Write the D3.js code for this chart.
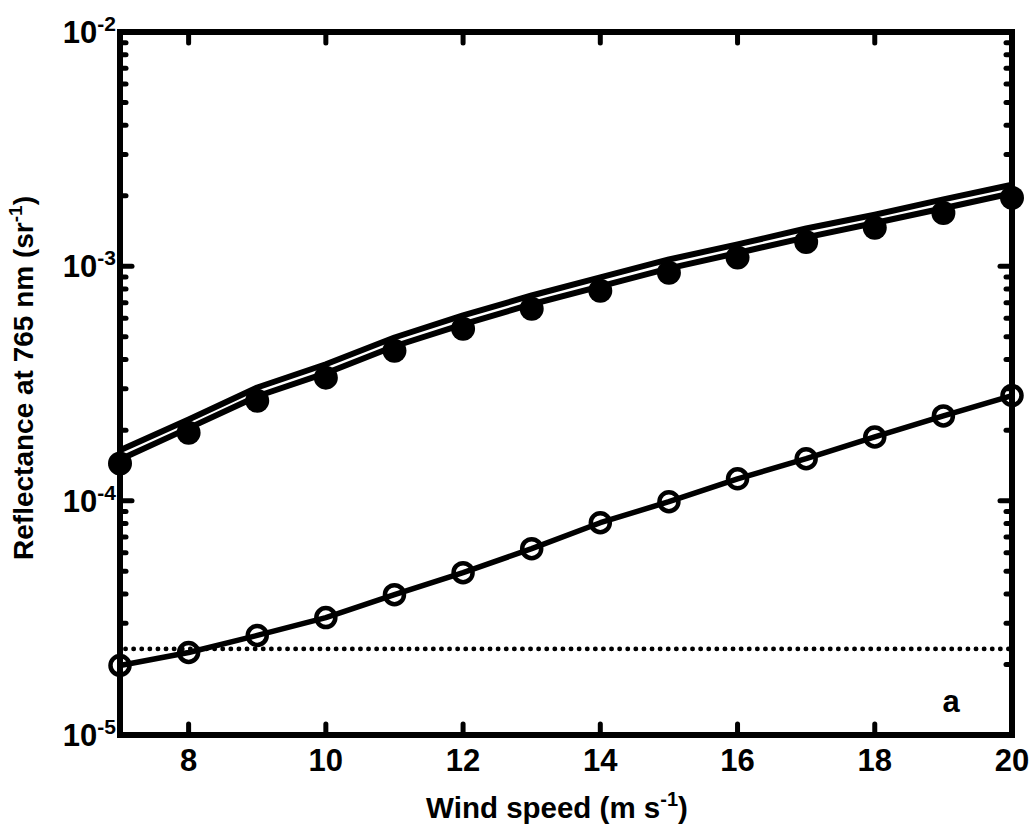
<!DOCTYPE html>
<html><head><meta charset="utf-8">
<script src="https://cdn.jsdelivr.net/npm/d3@7"></script>
<style>
body{margin:0;background:#fff;}
text{font-family:"Liberation Sans",Arial,Helvetica,sans-serif;font-weight:bold;fill:#000;}
</style>
</head><body>
<svg id="chart" width="1033" height="833"></svg>
<script>
// ---- data ----
const windSpeed = [7, 8, 9, 10, 11, 12, 13, 14, 15, 16, 17, 18, 19, 20];
const reflUpperLine = [1.64e-4, 2.22e-4, 3.04e-4, 3.82e-4, 4.97e-4, 6.17e-4, 7.51e-4, 8.97e-4, 1.07e-3, 1.24e-3, 1.45e-3, 1.66e-3, 1.93e-3, 2.23e-3];
const reflMiddleLine = [1.50e-4, 2.04e-4, 2.79e-4, 3.50e-4, 4.56e-4, 5.65e-4, 6.89e-4, 8.22e-4, 9.80e-4, 1.14e-3, 1.33e-3, 1.53e-3, 1.77e-3, 2.05e-3];
const reflFilled = [1.44e-4, 1.95e-4, 2.67e-4, 3.35e-4, 4.36e-4, 5.41e-4, 6.59e-4, 7.87e-4, 9.38e-4, 1.09e-3, 1.27e-3, 1.46e-3, 1.69e-3, 1.96e-3];
const reflOpen = [1.98e-5, 2.25e-5, 2.66e-5, 3.17e-5, 3.97e-5, 4.93e-5, 6.24e-5, 8.05e-5, 9.9e-5, 1.24e-4, 1.51e-4, 1.87e-4, 2.30e-4, 2.81e-4];
const reflDotted = [2.33e-5, 2.33e-5];
const dottedRange = [7.08, 20];
const xTickValues = [8, 10, 12, 14, 16, 18, 20];
const yDecadeExponents = [-5, -4, -3, -2];
const xTitle = "Wind speed (m s";
const yTitle = "Reflectance at 765 nm (sr";
const panelLabel = "a";

// ---- layout ----
const L = 120, R = 1012, T = 32, B = 735;
const svg = d3.select("#chart");
const x = d3.scaleLinear().domain([7, 20]).range([L, R]);
const y = d3.scaleLog().domain([1e-5, 1e-2]).range([B, T]);

// dotted horizontal line
svg.append("line")
  .attr("x1", x(dottedRange[0])).attr("x2", x(dottedRange[1]))
  .attr("y1", y(reflDotted[0])).attr("y2", y(reflDotted[1]))
  .attr("stroke", "#000").attr("stroke-width", 4.8)
  .attr("stroke-linecap", "round").attr("stroke-dasharray", "0.1 8");

const line = d3.line().x(d => x(d[0])).y(d => y(d[1]));
function drawLine(vals, w) {
  svg.append("path").datum(windSpeed.map((s, i) => [s, vals[i]]))
    .attr("d", line).attr("fill", "none").attr("stroke", "#000")
    .attr("stroke-width", w).attr("stroke-linejoin", "round");
}
drawLine(reflUpperLine, 6);
drawLine(reflMiddleLine, 6);
drawLine(reflOpen, 5.5);

// markers
svg.append("g").selectAll("circle").data(windSpeed.map((s, i) => [s, reflFilled[i]]))
  .join("circle").attr("cx", d => x(d[0])).attr("cy", d => y(d[1]))
  .attr("r", 12).attr("fill", "#000");
svg.append("g").selectAll("circle").data(windSpeed.map((s, i) => [s, reflOpen[i]]))
  .join("circle").attr("cx", d => x(d[0])).attr("cy", d => y(d[1]))
  .attr("r", 9.5).attr("fill", "none").attr("stroke", "#000").attr("stroke-width", 4.5);

// frame
svg.append("rect").attr("x", L).attr("y", T).attr("width", R - L).attr("height", B - T)
  .attr("fill", "none").attr("stroke", "#000").attr("stroke-width", 6);

// ticks
const tk = svg.append("g").attr("stroke", "#000").attr("stroke-linecap", "round");
xTickValues.forEach(v => {
  tk.append("line").attr("x1", x(v)).attr("x2", x(v)).attr("y1", B).attr("y2", B - 11).attr("stroke-width", 5);
  tk.append("line").attr("x1", x(v)).attr("x2", x(v)).attr("y1", T).attr("y2", T + 11).attr("stroke-width", 5);
});
yDecadeExponents.forEach(k => {
  const v = Math.pow(10, k);
  tk.append("line").attr("x1", L).attr("x2", L + 12).attr("y1", y(v)).attr("y2", y(v)).attr("stroke-width", 5);
  tk.append("line").attr("x1", R).attr("x2", R - 12).attr("y1", y(v)).attr("y2", y(v)).attr("stroke-width", 5);
  if (k < -2) {
    for (let m = 2; m <= 9; m++) {
      const mv = m * v;
      tk.append("line").attr("x1", L).attr("x2", L + 6).attr("y1", y(mv)).attr("y2", y(mv)).attr("stroke-width", 5);
      tk.append("line").attr("x1", R).attr("x2", R - 6).attr("y1", y(mv)).attr("y2", y(mv)).attr("stroke-width", 5);
    }
  }
});

// tick labels
svg.append("g").selectAll("text").data(xTickValues).join("text")
  .attr("x", d => x(d)).attr("y", B + 36).attr("text-anchor", "middle")
  .attr("font-size", 31).text(d => d);
yDecadeExponents.forEach(k => {
  const t = svg.append("text").attr("x", L - 4).attr("y", y(Math.pow(10, k)) + 11)
    .attr("text-anchor", "end").attr("font-size", 31);
  t.append("tspan").text("10");
  t.append("tspan").attr("dy", -12).attr("font-size", 21).text(String(k));
});

// axis titles
const xt = svg.append("text").attr("x", 557).attr("y", 818).attr("text-anchor", "middle").attr("font-size", 29.5);
xt.append("tspan").text(xTitle);
xt.append("tspan").attr("dy", -12).attr("font-size", 20).text("-1");
xt.append("tspan").attr("dy", 12).text(")");

const yt = svg.append("text").attr("transform", "translate(33,378) rotate(-90)").attr("text-anchor", "middle").attr("font-size", 28);
yt.append("tspan").text(yTitle);
yt.append("tspan").attr("dy", -11).attr("font-size", 19).text("-1");
yt.append("tspan").attr("dy", 11).text(")");

// panel label
svg.append("text").attr("x", 951).attr("y", 712).attr("text-anchor", "middle").attr("font-size", 31).text(panelLabel);
</script>
</body></html>
